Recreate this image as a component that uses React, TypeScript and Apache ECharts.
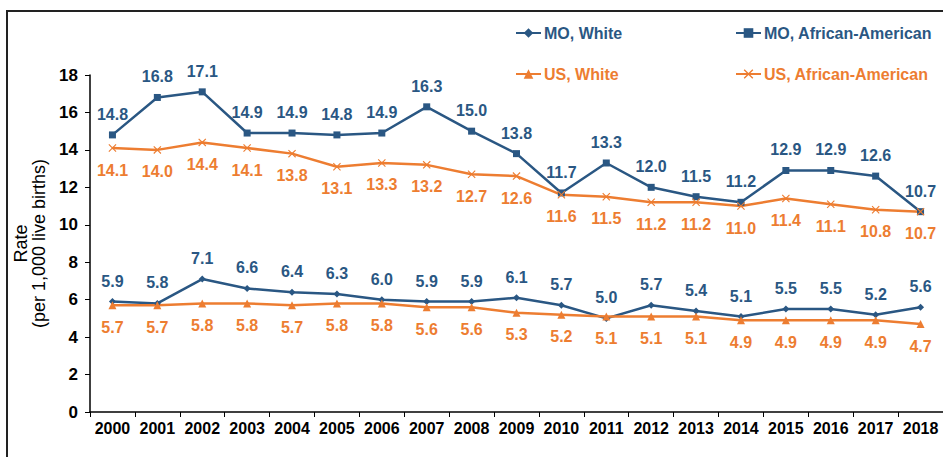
import React, { useEffect, useRef } from "react";
import * as echarts from "echarts";

const years = ["2000","2001","2002","2003","2004","2005","2006","2007","2008","2009","2010","2011","2012","2013","2014","2015","2016","2017","2018"];
const moWhite = [5.9,5.8,7.1,6.6,6.4,6.3,6.0,5.9,5.9,6.1,5.7,5.0,5.7,5.4,5.1,5.5,5.5,5.2,5.6];
const moAA = [14.8,16.8,17.1,14.9,14.9,14.8,14.9,16.3,15.0,13.8,11.7,13.3,12.0,11.5,11.2,12.9,12.9,12.6,10.7];
const usWhite = [5.7,5.7,5.8,5.8,5.7,5.8,5.8,5.6,5.6,5.3,5.2,5.1,5.1,5.1,4.9,4.9,4.9,4.9,4.7];
const usAA = [14.1,14.0,14.4,14.1,13.8,13.1,13.3,13.2,12.7,12.6,11.6,11.5,11.2,11.2,11.0,11.4,11.1,10.8,10.7];

const BLUE = "#2A5783";
const ORANGE = "#ED7D31";
const FONT = "'Liberation Sans', Arial, sans-serif";
const XSYM = "path://M0,1L1,0L5,4L9,0L10,1L6,5L10,9L9,10L5,6L1,10L0,9L4,5Z";

export default function App() {
  const ref = useRef<HTMLDivElement>(null);
  useEffect(() => {
    const chart = echarts.init(ref.current!, null, { renderer: "svg" });
    const label = (color: string, pos: string) => ({
      show: true,
      position: pos,
      distance: pos === "top" ? 9 : 10,
      color,
      fontFamily: FONT,
      fontWeight: "bold",
      fontSize: 16,
      formatter: (p: any) => Number(p.value).toFixed(1),
    });
    const mk = (name: string, data: number[], color: string, symbol: string, size: number, pos: string) => ({
      name,
      type: "line",
      data,
      symbol,
      symbolSize: size,
      showAllSymbol: true,
      lineStyle: { color, width: 2.5 },
      itemStyle: { color },
      label: label(color, pos),
      z: 3,
    });
    const legendItem = (name: string, color: string, left: number, top: number) => ({
      left,
      top,
      padding: 0,
      itemWidth: 25,
      itemHeight: 12,
      itemGap: 3,
      data: [{ name, textStyle: { color } }],
      textStyle: { fontFamily: FONT, fontWeight: "bold", fontSize: 16, color, padding: [0, 0, 0, -2] },
      selectedMode: false,
    });
    chart.setOption({
      animation: false,
      backgroundColor: "#fff",
      legend: [
        legendItem("MO, White", BLUE, 515, 25),
        legendItem("MO, African-American", BLUE, 735, 25),
        legendItem("US, White", ORANGE, 515, 66),
        legendItem("US, African-American", ORANGE, 735, 66),
      ],
      grid: { left: 90, top: 75, width: 855, height: 337, containLabel: false },
      xAxis: {
        type: "category",
        data: years,
        boundaryGap: true,
        axisLine: { lineStyle: { color: "#000", width: 1.5 } },
        axisTick: { show: true, length: 5, lineStyle: { color: "#000" } },
        axisLabel: { color: "#000", fontFamily: FONT, fontWeight: "bold", fontSize: 16, margin: 8, interval: 0 },
      },
      yAxis: {
        type: "value",
        min: 0,
        max: 18,
        interval: 2,
        name: "Rate\n(per 1,000 live births)",
        nameLocation: "middle",
        nameGap: 42,
        nameRotate: 90,
        nameTextStyle: { color: "#000", fontFamily: FONT, fontWeight: "normal", fontSize: 18, lineHeight: 18 },
        splitLine: { show: false },
        axisLine: { show: true, lineStyle: { color: "#000", width: 1.5 } },
        axisTick: { show: true, length: 5, lineStyle: { color: "#000" } },
        axisLabel: { color: "#000", fontFamily: FONT, fontWeight: "bold", fontSize: 17, margin: 12 },
      },
      graphic: [
        {
          type: "polyline",
          shape: { points: [[7, 460], [7, 11], [950, 11]] },
          style: { stroke: "#222", lineWidth: 2, fill: "none" },
        },
      ],
      series: [
        mk("MO, White", moWhite, BLUE, "diamond", 7, "top"),
        mk("MO, African-American", moAA, BLUE, "rect", 7, "top"),
        mk("US, White", usWhite, ORANGE, "triangle", 8, "bottom"),
        mk("US, African-American", usAA, ORANGE, XSYM, 8, "bottom"),
      ],
    });
    return () => chart.dispose();
  }, []);
  return <div ref={ref} style={{ position: "fixed", left: 0, top: 0, width: 943, height: 457 }} />;
}
